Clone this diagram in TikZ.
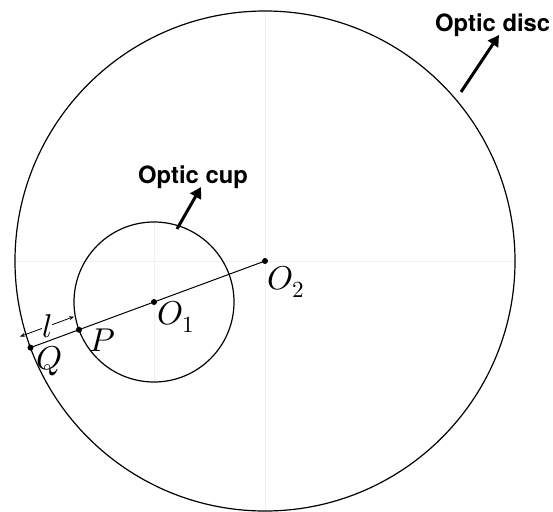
\documentclass[tikz,border=0pt]{standalone}
\usepackage{fontspec}
\usepackage{unicode-math}
\setmathfont{Latin Modern Math}
\newfontfamily\hfont{TeX Gyre Heros}
\usetikzlibrary{calc,arrows.meta}

\begin{document}
\begin{tikzpicture}[
  x=1pt, y=-1pt,
  rim/.style={draw=black, line width=1.2pt},
  faint/.style={draw=black!6, line width=.6pt},
  seg/.style={draw=black, line width=1pt},
  dimline/.style={draw=black, line width=.8pt, {Stealth[length=5pt,width=4pt]}-{Stealth[length=5pt,width=4pt]}},
  callout/.style={draw=black, line width=3pt, -{Triangle[length=11pt,width=12pt]}},
  pt/.style={circle, fill=black, inner sep=0pt, minimum size=6pt},
  lbl/.style={font=\fontsize{33}{38}\selectfont, inner sep=0pt},
  tag/.style={font=\hfont\bfseries\fontsize{23.8}{28}\selectfont, anchor=base west, inner sep=0pt},
]
\useasboundingbox (0,0) rectangle (553,511);

% ---------------- centres, radii and the points on the line ----------------
\coordinate (O2) at (265,261);
\coordinate (O1) at (154,302);
\coordinate (P) at ($(O1)!-80pt!(O2)$);
\coordinate (Q) at ($(O2)!250pt!(O1)$);

% ---------------- faint guide lines ----------------
\draw[faint] (15,261) -- (515,261);
\draw[faint] (265,11) -- (265,511);
\draw[faint] (154,222) -- (154,382);

% ---------------- disc and cup ----------------
\draw[rim] (O2) circle[radius=250];
\draw[rim] (O1) circle[radius=80];

% ---------------- line O2 -- Q ----------------
\draw[seg] (Q) -- (O2);
\node[pt] (dO2) at (O2) {};
\node[pt] (dO1) at (O1) {};
\node[pt] (dP) at (P) {};
\node[pt] (dQ) at (Q) {};

\node[lbl] (tO2) at (286,282) {$O_2$};
\node[lbl] (tO1) at (176,317) {$O_1$};
\node[lbl] (tP) at (102,340) {$P$};
\node[lbl] (tQ) at (50,361) {$Q$};

% ---------------- length l between Q and P ----------------
\coordinate (Qs) at ($(Q)!14pt!90:(P)$);
\coordinate (Ps) at ($(P)!14pt!-90:(Q)$);
\draw[dimline] ($(Qs)!-6pt!(Ps)$) -- (Ps)
  node[midway, lbl, fill=white, inner sep=.5pt] (tl) {$l$};

% ---------------- callouts ----------------
\node[tag] (disc) at (435,32) {Optic disc};
\node[tag] (cup) at (138,183) {Optic cup};
\coordinate (discTail) at (461,92);
\coordinate (discTip) at (499,35);
\coordinate (cupTail) at (177,229);
\coordinate (cupTip) at (201,187);
\draw[callout] (discTail) -- (discTip);
\draw[callout] (cupTail) -- (cupTip);

\end{tikzpicture}
\end{document}
